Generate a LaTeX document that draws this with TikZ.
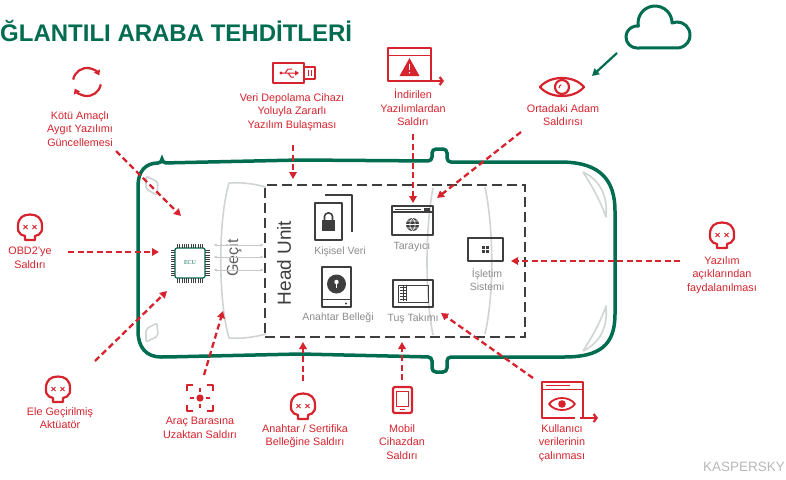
\documentclass[tikz,border=0pt]{standalone}
\usepackage{fontspec}
\setmainfont{Liberation Sans}
\newfontfamily\ecufont{Liberation Serif}
\usetikzlibrary{arrows.meta}

\definecolor{kgreen}{RGB}{0,108,80}
\definecolor{kred}{RGB}{214,35,45}
\definecolor{kgray}{RGB}{62,62,62}
\definecolor{klight}{RGB}{208,212,212}

\tikzset{
    threat/.style={kred, line width=2.3pt, dash pattern=on 6pt off 3.5pt,
        -{Triangle[length=7pt,width=7.5pt]}},
    threatlabel/.style={kred, font=\fontsize{10.8}{13.5}\selectfont, align=center,
        anchor=north, inner sep=0pt},
    hulabel/.style={gray!90, font=\fontsize{10.5}{13}\selectfont, align=center, inner sep=0pt},
    icon/.style={kred, line width=2.2pt, line join=round},
    thin icon/.style={kred, line width=1pt},
    huicon/.style={kgray, line width=2pt, line join=round},
    glass/.style={klight, line width=1.6pt, line join=round},
    gatebus/.style={gray!45, line width=0.8pt, {Latex[length=3pt,width=3pt]}-{Latex[length=3pt,width=3pt]}},
    skull/.pic={
        \draw[kred, line width=2.2pt, line join=round, fill=white]
            (-5,12) -- (-5,8) -- (-9,6.5) .. controls (-12,5) and (-12,2) .. (-12,-2)
            .. controls (-12,-10) and (-7,-13.5) .. (0,-13.5)
            .. controls (7,-13.5) and (12,-10) .. (12,-2)
            .. controls (12,2) and (12,5) .. (9,6.5) -- (5,8) -- (5,12) -- cycle;
        \draw[kred, line width=1pt]
            (-6.5,-3) -- (-2.5,1) (-6.5,1) -- (-2.5,-3)
            (2.5,-3) -- (6.5,1) (2.5,1) -- (6.5,-3);
    }
}

\begin{document}
\begin{tikzpicture}[x=1pt, y=-1pt]
    \useasboundingbox[fill=white] (0,0) rectangle (786,479);

    \node[kgreen, font=\fontsize{24}{24}\selectfont\bfseries, anchor=base west, inner sep=0pt]
        (title) at (0,41) {ĞLANTILI ARABA TEHDİTLERİ};

    % car body, seen from above
    \draw[kgreen, line width=3.5pt, rounded corners=4pt]
        (162,163) -- (300,160) -- (432,161) -- (432,149) -- (447,149) -- (447,162) -- (560,162)
        .. controls (600,163) and (615,180) .. (615,215) -- (615,310)
        .. controls (615,345) and (600,357) .. (560,357) -- (447,357) -- (447,372)
        -- (432,372) -- (432,357) -- (300,354) -- (165,357)
        .. controls (146,357) and (138,347) .. (138,327) -- (138,190)
        .. controls (138,172) and (145,163) .. (162,163) -- cycle;

    % windows and lights
    \draw[glass] (266,187) .. controls (255,184) and (242,182) .. (229,183)
        .. controls (218,220) and (218,300) .. (229,338)
        .. controls (242,339) and (255,337) .. (266,334);
    \draw[glass] (433,188) .. controls (425,230) and (425,295) .. (433,335);
    \draw[glass] (485,187) .. controls (494,230) and (494,295) .. (485,334);
    \draw[glass, rounded corners=2pt] (146,176) -- (158,182) -- (157,195) -- (146,189) -- cycle;
    \draw[glass, rounded corners=2pt] (146,342) -- (158,336) -- (157,323) -- (146,329) -- cycle;
    \draw[glass] (583,172) .. controls (600,180) and (608,196) .. (606,217)
        .. controls (600,200) and (592,186) .. (583,172);
    \draw[glass] (583,351) .. controls (600,343) and (608,327) .. (606,306)
        .. controls (600,323) and (592,337) .. (583,351);

    % head unit
    \node[draw=kgray, line width=2.8pt, dash pattern=on 10pt off 5pt, minimum width=260pt,
        minimum height=152pt, inner sep=0pt] (hu) at (395,261) {};
    \node[kgray, rotate=90, font=\fontsize{19}{19}\selectfont, inner sep=0pt] (hutxt) at (284,263) {Head Unit};
    \node[gray!75!black, rotate=90, font=\fontsize{16}{16}\selectfont, inner sep=0pt] (gecit) at (234,258) {Geçit};

    % ECU chip
    \node[draw=kgray, line width=1.2pt, rounded corners=2pt, minimum size=30pt, inner sep=0pt,
        kgreen, font=\ecufont\fontsize{6}{6}\selectfont] (ecu) at (190,263) {ECU};
    \foreach \i in {0,...,11} {
        \pgfmathsetmacro{\p}{-12.65+2.3*\i}
        \draw[kgray, line width=0.8pt] (190+\p,248) -- (190+\p,243.5);
        \draw[kgray, line width=0.8pt] (190+\p,278) -- (190+\p,282.5);
        \draw[kgray, line width=0.8pt] (175,263+\p) -- (170.5,263+\p);
        \draw[kgray, line width=0.8pt] (205,263+\p) -- (209.5,263+\p);
    }
    \foreach \dy in {18,6,-7}
        \draw[gatebus] ([xshift=8pt, yshift=\dy pt]ecu.east) -- ([yshift=\dy pt]ecu.east -| hu.west);

    % head unit contents
    \draw[huicon] (325,195) -- (352,195) -- (352,232);
    \draw[huicon, fill=white] (315,203) rectangle (342,240);
    \fill[kgray] (322,220) rectangle (335,231);
    \draw[kgray, line width=1.6pt, rounded corners=3.5pt] (324.5,220) -- (324.5,213) -- (332.5,213) -- (332.5,220);
    \node[hulabel] (kisisel) at (340,252) {Kişisel Veri};

    \draw[huicon] (392,206) rectangle (433,235);
    \draw[kgray, line width=1.2pt] (392,212) -- (433,212);
    \draw[kgray, line width=0.8pt] (395,209) -- (421,209);
    \fill[kgray] (424,208) rectangle (430,210.5);
    \fill[kgray] (412.5,224.5) circle (6.5);
    \draw[white, line width=0.6pt] (412.5,224.5) ellipse (2.6 and 6) (406,224.5) -- (419,224.5)
        (407,221) -- (418,221) (407,228) -- (418,228);
    \node[hulabel] (tarayici) at (412,247) {Tarayıcı};

    \draw[huicon] (468,238) rectangle (503,261);
    \foreach \a/\b in {0/0,3.6/0,0/3.6,3.6/3.6}
        \fill[kgray] (482+\a,246+\b) rectangle +(3,3);
    \node[hulabel, anchor=north] (isletim) at (487,268) {İşletim\\Sistemi};

    \draw[huicon] (322,267) rectangle (351,307);
    \draw[kgray, line width=1.4pt] (322,299.5) -- (351,299.5);
    \fill[kgray] (346,303.5) circle (1.1);
    \fill[kgray] (336.5,284) circle (9.5);
    \fill[white] (336.5,282) circle (2.2);
    \fill[white] (335.6,282) rectangle (337.4,288);
    \node[hulabel] (anahtar) at (338,318) {Anahtar Belleği};

    \draw[huicon, line width=2.4pt] (393,280) rectangle (433,307);
    \draw[kgray, line width=1pt] (398,285) rectangle (428,302);
    \foreach \k in {0,...,4}
        \draw[kgray, line width=0.6pt] (399.5,287+3*\k) -- (406.5,287+3*\k);
    \draw[kgray, line width=0.6pt] (403,286) -- (403,301) (406.5,286) -- (406.5,301);
    \node[hulabel] (tus) at (413,319) {Tuş Takımı};

    % threats around the car
    \draw[icon, -{Triangle[length=5pt,width=6.5pt]}] (87,82) ++(-170:14) arc[start angle=-170, end angle=-28, radius=14];
    \draw[icon, -{Triangle[length=5pt,width=6.5pt]}] (87,82) ++(10:14) arc[start angle=10, end angle=152, radius=14];
    \node[threatlabel] (fwlbl) at (80,111) {Kötü Amaçlı\\Aygıt Yazılımı\\Güncellemesi};

    \draw[icon] (273,63) rectangle (304,83);
    \draw[icon] (304,67) rectangle (315,79);
    \draw[thin icon] (308,70) -- (308,76) (311.5,70) -- (311.5,76);
    \draw[thin icon] (281,73) -- (296,73) (285,73) -- (288,69) -- (292,69) (288,73) -- (291,77) -- (294,77);
    \fill[kred] (281,73) circle (1.6) (299,73) -- (295,70.5) -- (295,75.5) -- cycle;
    \node[threatlabel] (usblbl) at (292,93) {Veri Depolama Cihazı\\Yoluyla Zararlı\\Yazılım Bulaşması};

    \draw[icon] (430,81) -- (388,81) -- (388,48) -- (431,48) -- (431,81);
    \draw[icon, -{Straight Barb[length=3pt,width=8pt]}] (428,81) -- (444,81);
    \draw[thin icon] (388,55) -- (431,55);
    \fill[kred] (409.5,58) -- (419.5,76) -- (399.5,76) -- cycle;
    \draw[white, line width=1.3pt] (409.5,63.5) -- (409.5,70);
    \fill[white] (409.5,72.8) circle (0.9);
    \node[threatlabel] (dllbl) at (413,89) {İndirilen\\Yazılımlardan\\Saldırı};

    \draw[icon] (540,87) .. controls (550,75) and (574,75) .. (584,87)
        .. controls (574,99) and (550,99) .. (540,87) -- cycle;
    \draw[icon] (562,87) circle (7);
    \draw[thin icon] (559,88) arc[start angle=180, end angle=250, radius=3.5];
    \node[threatlabel] (mitmlbl) at (563,104) {Ortadaki Adam\\Saldırısı};

    \draw[kgreen, line width=3pt, line join=round] (637,48)
        arc[start angle=90, end angle=277, radius=11]
        arc[start angle=169.5, end angle=360, radius=17]
        arc[start angle=247.4, end angle=450, radius=13] -- cycle;
    \coordinate (cloud) at (617,53);
    \coordinate (mitm) at (592,76);
    \draw[kgreen, line width=2.2pt, -{Triangle[length=7pt,width=7.5pt]}] (cloud) -- (mitm);

    \pic at (30,228) {skull};
    \node[threatlabel] (obdlbl) at (30,247) {OBD2’ye\\Saldırı};

    \pic at (58,390) {skull};
    \node[threatlabel] (actlbl) at (60,407) {Ele Geçirilmiş\\Aktüatör};

    \draw[icon, line width=2pt] (187,391) -- (187,385) -- (193,385) (207,385) -- (213,385) -- (213,391)
        (213,405) -- (213,411) -- (207,411) (193,411) -- (187,411) -- (187,405);
    \draw[thin icon, line width=1.6pt] (190,398) -- (194,398) (206,398) -- (210,398)
        (200,388) -- (200,392) (200,404) -- (200,408);
    \fill[kred] (200,398) circle (3.6);
    \node[threatlabel] (buslbl) at (200,417) {Araç Barasına\\Uzaktan Saldırı};

    \pic at (303,407) {skull};
    \node[threatlabel] (keylbl) at (305,424) {Anahtar / Sertifika\\Belleğine Saldırı};

    \draw[icon, rounded corners=2pt] (393,387) rectangle (412,413);
    \draw[thin icon] (396.5,391) rectangle (408.5,406);
    \draw[thin icon] (400,409.5) -- (405,409.5);
    \node[threatlabel] (moblbl) at (402,424) {Mobil\\Cihazdan\\Saldırı};

    \draw[icon] (575,418) -- (542,418) -- (542,382) -- (583,382) -- (583,418);
    \draw[icon, -{Straight Barb[length=3pt,width=8pt]}] (580,418) -- (598,418);
    \draw[thin icon] (542,389) -- (583,389) (546,385.5) -- (570,385.5);
    \draw[icon, line width=1.8pt] (549,404) .. controls (555,396) and (569,396) .. (575,404)
        .. controls (569,412) and (555,412) .. (549,404) -- cycle;
    \fill[kred] (562,404) circle (3.8);
    \node[threatlabel] (userlbl) at (562,424) {Kullanıcı\\verilerinin\\çalınması};

    \pic at (722,236) {skull};
    \node[threatlabel] (oslbl) at (722,256) {Yazılım\\açıklarından\\faydalanılması};

    % attack paths
    \coordinate (fw-from) at (116,151);   \coordinate (fw-to) at (181,216);
    \coordinate (usb-from) at (293,145);  \coordinate (usb-to) at (293,179);
    \coordinate (dl-from) at (413,134);   \coordinate (dl-to) at (413,203);
    \coordinate (mitm-from) at (521,132); \coordinate (mitm-to) at (437,198);
    \coordinate (obd-from) at (68,252);   \coordinate (obd-to) at (159,252);
    \coordinate (act-from) at (95,361);   \coordinate (act-to) at (167,291);
    \coordinate (bus-from) at (204,375);  \coordinate (bus-to) at (223,311);
    \coordinate (key-from) at (303,381);  \coordinate (key-to) at (303,342);
    \coordinate (mob-from) at (402,380);  \coordinate (mob-to) at (402,342);
    \coordinate (user-from) at (533,378); \coordinate (user-to) at (441,313);
    \coordinate (os-from) at (680,261);   \coordinate (os-to) at (511,261);
    \foreach \t in {fw,usb,dl,mitm,obd,act,bus,key,mob,user,os}
        \draw[threat] (\t-from) -- (\t-to);

    \node[gray!55, font=\fontsize{13.5}{13.5}\selectfont, anchor=base east, inner sep=0pt]
        (logo) at (785,471) {KASPERSKY};
\end{tikzpicture}
\end{document}
